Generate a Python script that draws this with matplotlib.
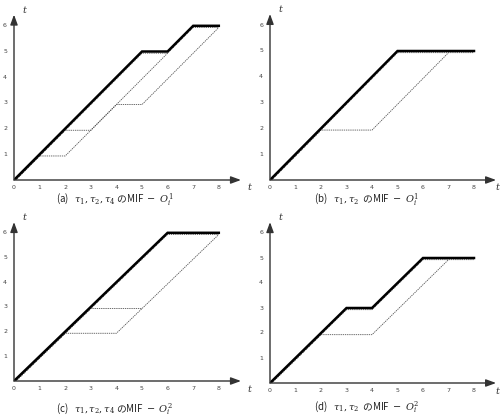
import matplotlib
matplotlib.use("Agg")
import matplotlib.pyplot as plt
import matplotlib.transforms as mtransforms

plt.rcParams['font.family'] = ['Noto Sans CJK JP', 'DejaVu Sans']
plt.rcParams['mathtext.fontset'] = 'dejavuserif'

x_ticks = [0, 1, 2, 3, 4, 5, 6, 7, 8]
y_ticks = [1, 2, 3, 4, 5, 6]

# MIF envelope (thick solid) for each panel
env_a = ([0, 5, 6, 7, 8], [0, 5, 5, 6, 6])
env_b = ([0, 5, 8], [0, 5, 5])
env_c = ([0, 6, 8], [0, 6, 6])
env_d = ([0, 3, 4, 6, 8], [0, 3, 3, 5, 5])

# individual task paths (thin dashed)
paths_a = [([0, 5, 6, 7, 8], [0, 5, 5, 6, 6]),
           ([0, 2, 3, 6], [0, 2, 2, 5]),
           ([0, 1, 2, 4, 5, 8], [0, 1, 1, 3, 3, 6])]
paths_b = [([0, 5, 8], [0, 5, 5]),
           ([0, 2, 4, 7], [0, 2, 2, 5])]
paths_c = [([0, 6, 8], [0, 6, 6]),
           ([0, 3, 5], [0, 3, 3]),
           ([0, 2, 4, 8], [0, 2, 2, 6])]
paths_d = [([0, 3, 4, 6, 8], [0, 3, 3, 5, 5]),
           ([0, 2, 4, 7], [0, 2, 2, 5])]

captions = [r"(a)   $\tau_1,\tau_2,\tau_4$ のMIF  $-$  $O_i^1$",
            r"(b)   $\tau_1,\tau_2$  のMIF  $-$  $O_i^1$",
            r"(c)   $\tau_1,\tau_2,\tau_4$ のMIF  $-$  $O_i^2$",
            r"(d)   $\tau_1,\tau_2$  のMIF  $-$  $O_i^2$"]

W, H = 502, 416
fig = plt.figure(figsize=(W / 100, H / 100), dpi=100)

# origin px x, origin px y, px/unit x, px/unit y, caption center x, caption y
layout = [(14, 180, 25.6, 25.7, 115, 200),
          (270, 180, 25.5, 25.8, 367, 200),
          (14, 381, 25.6, 24.7, 115, 408),
          (270, 383, 25.5, 25.0, 367, 407)]
envs = [env_a, env_b, env_c, env_d]
paths = [paths_a, paths_b, paths_c, paths_d]

XMAX, YMAX = 9.0, 6.5
for (ox, oy, ux, uy, cx, cy), env, pl, cap in zip(layout, envs, paths, captions):
    ax = fig.add_axes([ox / W, (H - oy) / H, XMAX * ux / W, YMAX * uy / H])
    ax.set_xlim(0, XMAX)
    ax.set_ylim(0, YMAX)
    ax.axis('off')
    off = mtransforms.offset_copy(ax.transData, fig=fig, x=0, y=-1.2, units='points')
    for px, py in pl:
        ax.plot(px, py, color='#555555', lw=0.6, ls=(0, (1.6, 1.0)), transform=off)
    ax.plot(env[0], env[1], color='black', lw=1.8, solid_joinstyle='miter')
    # axes arrows
    ax.annotate('', xy=(XMAX * 0.985, 0), xytext=(0, 0), xycoords='data',
                arrowprops=dict(arrowstyle='-|>,head_length=0.6,head_width=0.22',
                                color='#333333', lw=1.0, shrinkA=0, shrinkB=0))
    ax.annotate('', xy=(0, YMAX * 0.99), xytext=(0, 0), xycoords='data',
                arrowprops=dict(arrowstyle='-|>,head_length=0.6,head_width=0.22',
                                color='#333333', lw=1.0, shrinkA=0, shrinkB=0))
    for v in x_ticks:
        ax.text(v, -0.3, str(v), ha='center', va='center', fontsize=4.5,
                color='#444444', family='DejaVu Sans')
    for v in y_ticks:
        ax.text(-0.35, v, str(v), ha='center', va='center', fontsize=4.5,
                color='#444444', family='DejaVu Sans')
    tx = min(ox + XMAX * ux + 3, W - 7)
    fig.text(tx / W, 1 - (oy + 8) / H, 't', ha='left', va='center', fontsize=7,
             style='italic', family='DejaVu Serif', color='#333333')
    ax.text(0.4, YMAX + 0.1, 't', ha='center', va='center', fontsize=7,
            style='italic', family='DejaVu Serif', color='#333333')
    fig.text(cx / W, 1 - cy / H, cap, ha='center', va='center', fontsize=7,
             color='#222222')

fig.savefig('out.png', dpi=100)
